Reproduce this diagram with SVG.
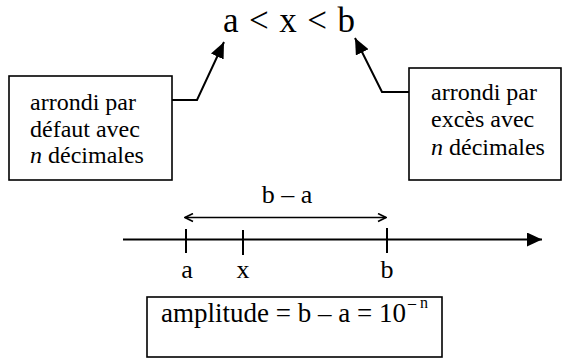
<svg xmlns="http://www.w3.org/2000/svg" width="562" height="358" viewBox="0 0 562 358" font-family="'Liberation Serif', 'DejaVu Serif', serif">
<style>
text{font-family:'Liberation Serif','DejaVu Serif',serif;fill:#000}
.box{fill:#fff;stroke:#000;stroke-width:1.6}
.ln{fill:none;stroke:#000;stroke-width:2}
.t24{font-size:24px}
.t25{font-size:26px}
</style>
<defs>
<marker id="tri" viewBox="0 0 16 14" refX="16" refY="7" markerWidth="16" markerHeight="14" markerUnits="userSpaceOnUse" orient="auto">
<path d="M0,0 L16,7 L0,14 Z" fill="#000"/>
</marker>
<marker id="triBig" viewBox="0 0 15 14" refX="15" refY="7" markerWidth="15" markerHeight="14" markerUnits="userSpaceOnUse" orient="auto">
<path d="M0,0 L15,7 L0,14 Z" fill="#000"/>
</marker>
<marker id="chev" viewBox="0 0 10 10" refX="9" refY="5" markerWidth="10" markerHeight="10" markerUnits="userSpaceOnUse" orient="auto-start-reverse">
<path d="M1,1 L9,5 L1,9" fill="none" stroke="#000" stroke-width="1.6"/>
</marker>
</defs>
<g id="title">
<text x="223" y="32" font-size="35" textLength="132" lengthAdjust="spacing">a &lt; x &lt; b</text>
</g>
<g id="box-defaut">
<rect class="box" x="9" y="76" width="163" height="104"/>
<text class="t24" x="30" y="110">arrondi par</text>
<text class="t24" x="30" y="137">défaut avec</text>
<text class="t24" x="30" y="163"><tspan font-style="italic">n</tspan> décimales</text>
</g>
<g id="box-exces">
<rect class="box" x="409" y="68" width="152" height="112"/>
<text class="t24" x="431" y="100">arrondi par</text>
<text class="t24" x="431" y="127">excès avec</text>
<text class="t24" x="431" y="155"><tspan font-style="italic">n</tspan> décimales</text>
</g>
<g id="axis-labels">
<text class="t25" x="287" y="203" text-anchor="middle">b – a</text>
<text class="t25" x="187" y="278" text-anchor="middle">a</text>
<text class="t25" x="243" y="278" text-anchor="middle">x</text>
<text class="t25" x="387" y="278" text-anchor="middle">b</text>
</g>
<g id="box-amplitude">
<rect class="box" x="147" y="297" width="295" height="60"/>
<text x="161" y="322" font-size="27">amplitude = b – a = 10<tspan dx="2" dy="-14" font-size="16">– n</tspan></text>
</g>
<g id="connectors">
<polyline class="ln" points="172,100 197,100 224,42" marker-end="url(#tri)"/>
<polyline class="ln" points="409,92 382,92 355,38" marker-end="url(#tri)"/>
<line class="ln" x1="123" y1="239.5" x2="542" y2="239.5" marker-end="url(#triBig)"/>
<line x1="185" y1="217.5" x2="386" y2="217.5" stroke="#000" stroke-width="1.6" marker-start="url(#chev)" marker-end="url(#chev)"/>
<line class="ln" x1="186" y1="229" x2="186" y2="253" stroke-width="1.4"/>
<line class="ln" x1="243" y1="230" x2="243" y2="255" stroke-width="1.4"/>
<line class="ln" x1="387" y1="228" x2="387" y2="253" stroke-width="1.4"/>
</g>
</svg>
